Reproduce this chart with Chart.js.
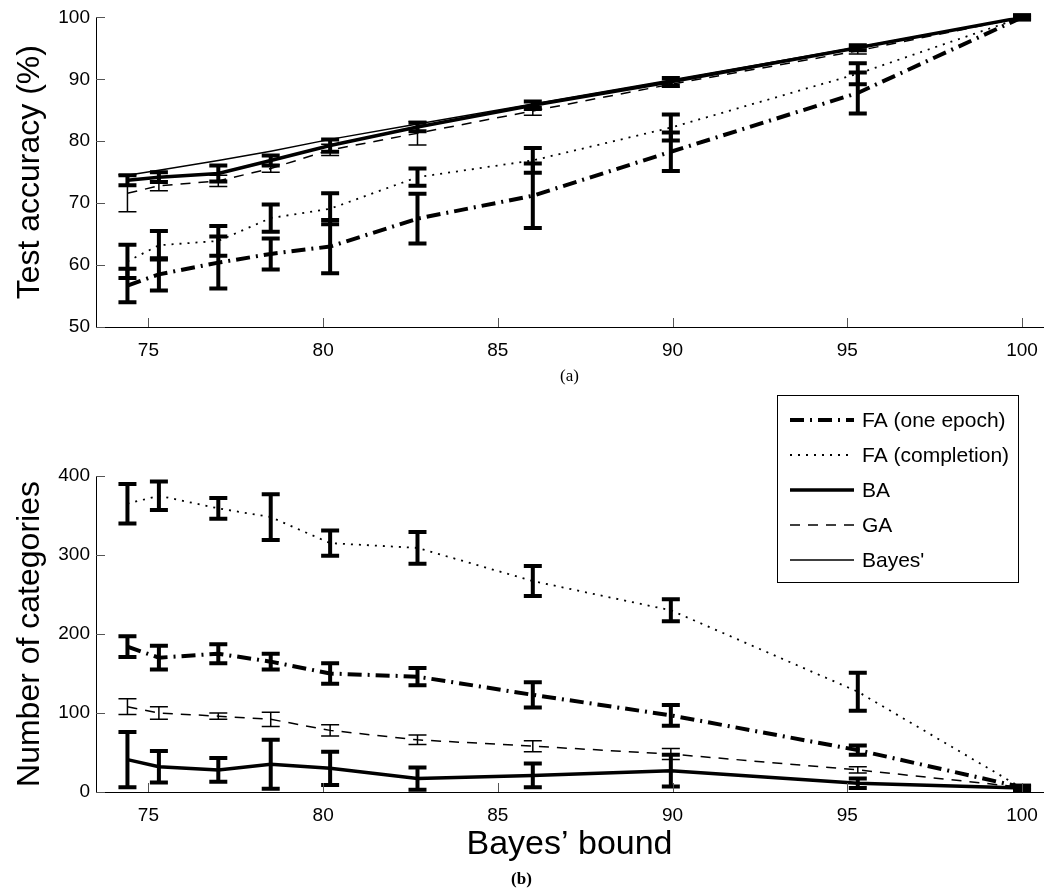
<!DOCTYPE html>
<html>
<head>
<meta charset="utf-8">
<script src="https://cdn.jsdelivr.net/npm/chart.js@4.4.1/dist/chart.umd.min.js"></script>
<style>
html,body{margin:0;padding:0;background:#fff;}
#wrap{position:relative;width:1053px;height:893px;overflow:hidden;}
canvas{position:absolute;left:0;}
</style>
</head>
<body>
<div id="wrap">
<canvas id="chartA" width="1053" height="395" style="top:0;width:1053px;height:395px"></canvas>
<canvas id="chartB" width="1053" height="513" style="top:380px;width:1053px;height:513px"></canvas>
</div>
<script>
// Bayes' bound (x values shared by both panels)
var bayesBound = [74.4, 75.3, 77.0, 78.5, 80.2, 82.7, 86.0, 89.95, 95.3, 100];
var xTicks = [75, 80, 85, 90, 95, 100];
var yTicksA = [50, 60, 70, 80, 90, 100];
var yTicksB = [0, 100, 200, 300, 400];

// (a) test accuracy (%)
var accFA1 = [56.7, 58.5, 60.4, 61.8, 63.0, 67.5, 71.2, 78.3, 87.8, 100];
var errAccFA1 = [2.7, 2.6, 4.2, 2.5, 4.3, 4.0, 5.2, 3.1, 3.3, 0.3];
var accFAc = [60.6, 63.2, 63.9, 67.6, 69.1, 74.2, 76.9, 82.2, 90.9, 100];
var errAccFAc = [2.7, 2.3, 2.4, 2.2, 2.5, 1.4, 2.0, 2.1, 1.7, 0.3];
var accBA = [73.7, 74.2, 74.8, 76.9, 79.3, 82.3, 85.8, 89.6, 95.1, 100];
var errAccBA = [0.8, 0.8, 1.3, 0.8, 1.0, 0.7, 0.6, 0.6, 0.4, 0.3];
var accGA = [71.6, 72.8, 73.6, 75.6, 78.6, 81.3, 84.9, 89.2, 94.6, 100];
var errAccGA = [3.0, 0.8, 0.9, 0.6, 0.9, 1.9, 0.7, 0.5, 0.5, 0.2];
var accBayes = [74.5, 75.3, 76.9, 78.4, 80.3, 82.8, 86.0, 89.9, 95.2, 100];

// (b) number of categories
var catFA1 = [184, 170, 175, 165, 150, 146, 123, 97, 53, 6];
var errCatFA1 = [13, 15, 12, 10, 13, 11, 16, 13, 6, 2];
var catFAc = [365, 375, 359, 348, 315, 309, 267, 230, 127, 5];
var errCatFAc = [25, 18, 13, 29, 16, 20, 19, 14, 24, 2];
var catBA = [41, 32, 28, 35, 30, 17, 21, 27, 11, 5];
var errCatBA = [35, 20, 15, 31, 21, 14, 15, 20, 6, 3];
var catGA = [108, 100, 96, 92, 78, 66, 58, 48, 28, 6];
var errCatGA = [10, 8, 4, 9, 7, 6, 7, 7, 4, 2];

var FONT = "'Liberation Sans', Arial, Helvetica, sans-serif";
var SERIF = "'Liberation Serif', 'Times New Roman', serif";

function pts(ys){
    return ys.map(function(v,i){ return {x: bayesBound[i], y: v} })
}

// line styles of the five series
var styles = {
    fa1:   {label:'FA (one epoch)',  borderWidth:4,   borderDash:[14,6,2,6], errorWidth:4},
    fac:   {label:'FA (completion)', borderWidth:1.8, borderDash:[2,6],      errorWidth:4},
    ba:    {label:'BA',              borderWidth:3.5, borderDash:[],         errorWidth:4},
    ga:    {label:'GA',              borderWidth:1.5, borderDash:[10,8],     errorWidth:1.5},
    bayes: {label:"Bayes'",          borderWidth:1.5, borderDash:[],         errorWidth:1.5}
}

function ds(key, ys, errs){
    var s = styles[key]
    return {
        label: s.label,
        data: ys ? pts(ys) : [],
        errors: errs,
        errorWidth: s.errorWidth,
        borderColor: '#000',
        backgroundColor: '#000',
        borderWidth: s.borderWidth,
        borderDash: s.borderDash,
        pointRadius: 0,
        tension: 0,
        fill: false
    }
}

var errorBars = {
    id: 'errorBars',
    afterDatasetsDraw: function(chart){
        var ctx = chart.ctx, xs = chart.scales.x, ys = chart.scales.y
        chart.data.datasets.forEach(function(d){
            if(!d.errors) return
            ctx.save()
            ctx.strokeStyle = '#000'
            ctx.lineWidth = d.errorWidth
            ctx.setLineDash([])
            d.data.forEach(function(p, j){
                var e = d.errors[j]
                var px = xs.getPixelForValue(p.x)
                var y1 = ys.getPixelForValue(p.y - e), y2 = ys.getPixelForValue(p.y + e)
                ctx.beginPath()
                ctx.moveTo(px, y1); ctx.lineTo(px, y2)
                ctx.moveTo(px - 9, y1); ctx.lineTo(px + 9, y1)
                ctx.moveTo(px - 9, y2); ctx.lineTo(px + 9, y2)
                ctx.stroke()
            })
            ctx.restore()
        })
    }
}

// matlab style ticks pointing into the plot
var inTicks = {
    id: 'inTicks',
    afterDraw: function(chart){
        var ctx = chart.ctx, a = chart.chartArea
        ctx.save()
        ctx.strokeStyle = '#555'
        ctx.lineWidth = 1
        chart.scales.x.ticks.forEach(function(t){
            var px = Math.round(chart.scales.x.getPixelForValue(t.value)) + 0.5
            ctx.beginPath(); ctx.moveTo(px, a.bottom); ctx.lineTo(px, a.bottom - 9); ctx.stroke()
        })
        chart.scales.y.ticks.forEach(function(t){
            var py = Math.round(chart.scales.y.getPixelForValue(t.value)) + 0.5
            ctx.beginPath(); ctx.moveTo(a.left, py); ctx.lineTo(a.left + 9, py); ctx.stroke()
        })
        ctx.restore()
    }
}

var boxLegend = {
    id: 'boxLegend',
    afterDraw: function(chart, args, opts){
        if(!opts.show) return
        var ctx = chart.ctx, a = chart.chartArea
        var right = a.right - opts.offsetRight, top = a.top - opts.offsetTop
        var left = right - opts.width
        var n = chart.data.datasets.length
        var h = opts.firstRow + (n - 1) * opts.rowStep + opts.lastPad
        ctx.save()
        ctx.fillStyle = '#fff'
        ctx.fillRect(left, top, opts.width, h)
        ctx.strokeStyle = '#000'
        ctx.lineWidth = 1
        ctx.strokeRect(Math.round(left) + 0.5, Math.round(top) + 0.5, opts.width, h)
        ctx.font = opts.font
        ctx.textBaseline = 'middle'
        ctx.fillStyle = '#000'
        chart.data.datasets.forEach(function(d, i){
            var y = top + opts.firstRow + i * opts.rowStep
            ctx.strokeStyle = '#000'
            ctx.lineWidth = d.borderWidth
            ctx.setLineDash(d.borderDash)
            ctx.beginPath(); ctx.moveTo(left + 13, y); ctx.lineTo(left + 77, y); ctx.stroke()
            ctx.setLineDash([])
            ctx.fillText(d.label, left + 85, y + 1)
        })
        ctx.restore()
    }
}

function makeOptions(o){
    return {
        responsive: false,
        animation: false,
        devicePixelRatio: 1,
        layout: {padding: {top: o.padTop, right: 10, left: 0, bottom: 0}},
        plugins: {
            legend: {display: false},
            tooltip: {enabled: false},
            title: o.caption ? {display: true, position: 'bottom', text: o.caption,
                font: {family: SERIF, size: 17}, color: '#000', padding: {top: 0, bottom: 3}} : {display: false},
            boxLegend: o.legend || {show: false}
        },
        scales: {
            x: {
                type: 'linear', min: 73.5, max: 100.6,
                afterBuildTicks: function(s){ s.ticks = xTicks.map(function(v){ return {value: v} }) },
                afterFit: function(s){ s.height = o.xHeight },
                grid: {display: false, drawTicks: false},
                border: {display: true, color: '#000', width: 1},
                ticks: {color: '#000', font: {family: FONT, size: 19}, padding: 12, maxRotation: 0},
                title: {display: true, text: o.xTitle, color: '#000', font: o.xTitleFont,
                    padding: {top: 0, bottom: o.xTitlePad}}
            },
            y: {
                min: o.yMin, max: o.yMax,
                afterBuildTicks: function(s){ s.ticks = o.yTicks.map(function(v){ return {value: v} }) },
                afterFit: function(s){ s.width = 96 },
                grid: {display: false, drawTicks: false},
                border: {display: true, color: '#000', width: 1},
                ticks: {color: '#000', font: {family: FONT, size: 19}, padding: 6},
                title: {display: true, text: o.yTitle, color: '#000', font: {family: FONT, size: 32},
                    padding: {top: 11, bottom: 0}}
            }
        }
    }
}

new Chart(document.getElementById('chartA'), {
    type: 'line',
    data: {datasets: [
        ds('fa1', accFA1, errAccFA1),
        ds('fac', accFAc, errAccFAc),
        ds('ba', accBA, errAccBA),
        ds('ga', accGA, errAccGA),
        ds('bayes', accBayes, null)
    ]},
    options: makeOptions({
        padTop: 15, xHeight: 68, yMin: 50, yMax: 100, yTicks: yTicksA,
        xTitle: '(a)', xTitleFont: {family: SERIF, size: 17}, xTitlePad: 7.8,
        yTitle: 'Test accuracy (%)'
    }),
    plugins: [errorBars, inTicks, boxLegend]
})

new Chart(document.getElementById('chartB'), {
    type: 'line',
    data: {datasets: [
        ds('fa1', catFA1, errCatFA1),
        ds('fac', catFAc, errCatFAc),
        ds('ba', catBA, errCatBA),
        ds('ga', catGA, errCatGA),
        ds('bayes', null, null)
    ]},
    options: makeOptions({
        padTop: 96, xHeight: 77.6, yMin: 0, yMax: 400, yTicks: yTicksB,
        xTitle: "Bayes\u2019 bound", xTitleFont: {family: FONT, size: 34}, xTitlePad: 4.8,
        yTitle: 'Number of categories', caption: '(b)',
        legend: {show: true, offsetRight: 25, offsetTop: 81, width: 241,
            firstRow: 25, rowStep: 35, lastPad: 22, font: '21px ' + FONT}
    }),
    plugins: [errorBars, inTicks, boxLegend]
})
</script>
</body>
</html>
